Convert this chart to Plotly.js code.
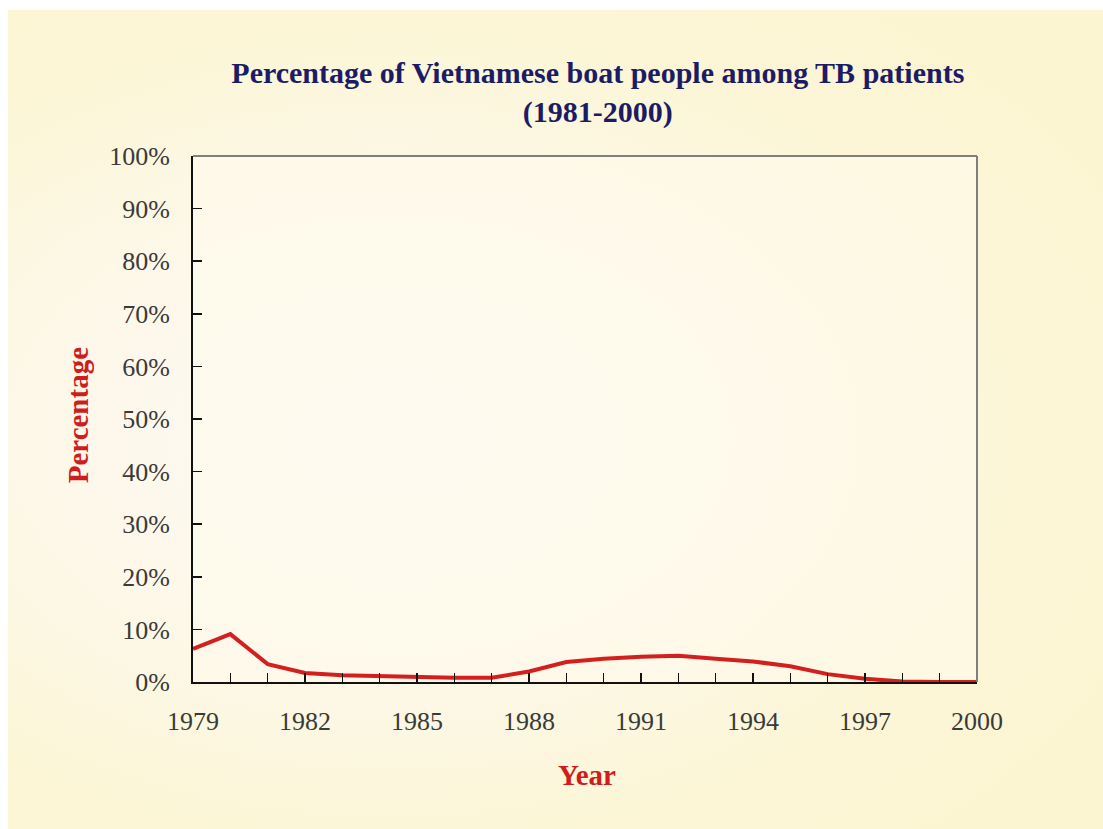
<!DOCTYPE html>
<html>
<head>
<meta charset="utf-8">
<script src="https://cdn.plot.ly/plotly-3.0.1.min.js"></script>
<style>
  html, body { margin: 0; padding: 0; background: #ffffff; }
  #wrap { position: absolute; left: 0; top: 0; width: 1103px; height: 829px; background: #ffffff; }
  #bg { position: absolute; left: 8px; top: 10px; width: 1095px; height: 819px;
        background: radial-gradient(ellipse 75% 65% at 35% 52%, #fdf9f4 0%, #fdf8ea 40%, #fcf6d8 75%, #fcf5d2 100%); }
  #chart { position: absolute; left: 0; top: 0; width: 1103px; height: 829px; }
</style>
</head>
<body>
<div id="wrap"><div id="bg"></div><div id="chart"></div></div>
<script>
const years = [1979,1980,1981,1982,1983,1984,1985,1986,1987,1988,1989,1990,1991,1992,1993,1994,1995,1996,1997,1998,1999,2000];
const percentValues = [6.3,9.1,3.4,1.7,1.3,1.1,1.0,0.8,0.8,2.0,3.8,4.4,4.8,5.0,4.4,3.9,3.0,1.5,0.6,0.1,0.0,0.0];
const yTickValues = [0,10,20,30,40,50,60,70,80,90,100];
const xTickValues = [1979,1982,1985,1988,1991,1994,1997,2000];

const serif = 'Liberation Serif, Times New Roman, serif';

const trace = {
  x: years, y: percentValues, type: 'scatter', mode: 'lines',
  line: { color: '#d41f1f', width: 4 }, hoverinfo: 'skip'
};

const layout = {
  width: 1103, height: 829,
  margin: { l: 193, r: 126, t: 156, b: 147, pad: 0 },
  paper_bgcolor: 'rgba(0,0,0,0)',
  plot_bgcolor: 'rgba(255,252,236,0.55)',
  showlegend: false,
  title: {
    text: '<b>Percentage of Vietnamese boat people among TB patients<br>(1981-2000)</b>',
    font: { family: serif, size: 30, color: '#1c1c66' },
    xref: 'container', yref: 'container', x: 0.542, xanchor: 'center', y: 0.9, yanchor: 'middle'
  },
  xaxis: {
    range: [1979, 2000], fixedrange: true,
    tickmode: 'array', tickvals: xTickValues, ticktext: xTickValues.map(String),
    ticks: 'inside', ticklen: 9, tickwidth: 1.5, tickcolor: '#111',
    minor: { dtick: 1, tick0: 1979, ticks: 'inside', ticklen: 9, tickwidth: 1.5, tickcolor: '#111' },
    showline: true, linecolor: '#111', linewidth: 2,
    showgrid: false, zeroline: false,
    tickfont: { family: serif, size: 26, color: '#3a3a3a' },
    ticklabelstandoff: 15
  },
  yaxis: {
    range: [0, 100], fixedrange: true,
    tickmode: 'array', tickvals: yTickValues, ticktext: yTickValues.map(v => v + '%'),
    ticks: 'inside', ticklen: 9, tickwidth: 1.5, tickcolor: '#111',
    showline: true, linecolor: '#111', linewidth: 2,
    showgrid: false, zeroline: false,
    tickfont: { family: serif, size: 26, color: '#3a3a3a' },
    ticklabelstandoff: 16
  },
  shapes: [
    { type: 'line', xref: 'paper', yref: 'paper', x0: 0, x1: 1, y0: 1, y1: 1, line: { color: '#7f7f7f', width: 2 } },
    { type: 'line', xref: 'paper', yref: 'paper', x0: 1, x1: 1, y0: 0, y1: 1, line: { color: '#7f7f7f', width: 2 } }
  ],
  annotations: [
    { text: '<b>Percentage</b>', xref: 'paper', yref: 'paper', x: -0.1467, y: 0.507,
      xanchor: 'center', yanchor: 'middle', textangle: -90, showarrow: false,
      font: { family: serif, size: 29, color: '#d01c1c' } },
    { text: '<b>Year</b>', xref: 'paper', yref: 'paper', x: 0.5026, y: -0.177,
      xanchor: 'center', yanchor: 'middle', showarrow: false,
      font: { family: serif, size: 29, color: '#d01c1c' } }
  ]
};

Plotly.newPlot('chart', [trace], layout, { displayModeBar: false, staticPlot: true });
</script>
</body>
</html>
